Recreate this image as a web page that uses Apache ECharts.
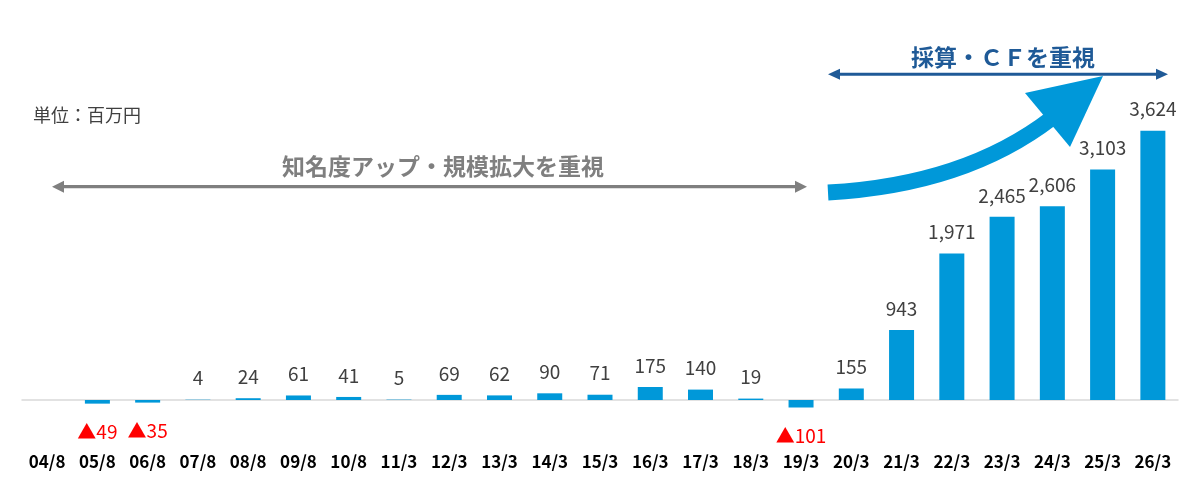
<!DOCTYPE html>
<html>
<head>
<meta charset="utf-8">
<script src="https://cdn.jsdelivr.net/npm/echarts@6/dist/echarts.min.js"></script>
<style>
  html, body { margin: 0; padding: 0; background: #fff; }
  #chart { width: 1200px; height: 486px; }
</style>
</head>
<body>
<div id="chart"></div>
<script>
// 決算期
var periods = ['04/8', '05/8', '06/8', '07/8', '08/8', '09/8', '10/8', '11/3', '12/3', '13/3', '14/3', '15/3',
  '16/3', '17/3', '18/3', '19/3', '20/3', '21/3', '22/3', '23/3', '24/3', '25/3', '26/3'];
// 利益（百万円）、04/8 は値なし
var profits = [null, -49, -35, 4, 24, 61, 41, 5, 69, 62, 90, 71, 175, 140, 19, -101, 155, 943, 1971, 2465, 2606, 3103, 3624];

var phase1 = '知名度アップ・規模拡大を重視';
var phase2 = '採算・ＣＦを重視';
var unitText = '単位：百万円';

var FONT = '"Noto Sans CJK JP", "Noto Sans", sans-serif';
var BAR = '#0098D9';
var GRAY = '#7F7F7F';
var NAVY = '#1F5A97';

// マイナスは▲表記・赤字で棒の下に
var barData = profits.map(function (v) {
  if (v === null) return '-';
  if (v < 0) {
    return {
      value: v,
      label: {
        position: 'bottom',
        distance: 19,
        color: '#FF0000',
        formatter: '▲' + Math.abs(v)
      }
    };
  }
  return v;
});

var chart = echarts.init(document.getElementById('chart'));

chart.setOption({
  animation: false,
  grid: { left: 22, right: 22, top: 102.8, bottom: 11.7, outerBoundsMode: 'none', containLabel: false },
  xAxis: {
    type: 'category',
    data: periods,
    axisLine: { onZero: true, lineStyle: { color: '#D9D9D9', width: 1.5 } },
    axisTick: { show: false },
    axisLabel: {
      margin: -21,
      color: '#000',
      fontWeight: 'bold',
      fontSize: 17,
      fontFamily: FONT
    }
  },
  yAxis: {
    type: 'value',
    min: -1000,
    max: 4000,
    show: false,
    splitLine: { show: false }
  },
  series: [{
    type: 'bar',
    data: barData,
    barWidth: 25,
    itemStyle: { color: BAR },
    label: {
      show: true,
      position: 'top',
      distance: 12,
      color: '#404040',
      fontSize: 19,
      fontFamily: FONT,
      formatter: function (p) {
        return Number(p.value).toLocaleString('en-US');
      }
    }
  }],
  graphic: [
    // 単位
    { type: 'text', left: 33, top: 106,
      style: { text: unitText, fontSize: 18, fill: '#404040', fontFamily: FONT } },

    // 前半：グレーの両矢印
    { type: 'line', shape: { x1: 60, y1: 186.7, x2: 799, y2: 186.7 },
      style: { stroke: GRAY, lineWidth: 3.3 } },
    { type: 'polygon', shape: { points: [[52, 186.7], [64, 180.7], [64, 192.7]] }, style: { fill: GRAY } },
    { type: 'polygon', shape: { points: [[807, 186.7], [795, 180.7], [795, 192.7]] }, style: { fill: GRAY } },
    { type: 'text', x: 443, y: 166,
      style: { text: phase1, fontSize: 23, fontWeight: 'bold', fill: GRAY, fontFamily: FONT,
        align: 'center', verticalAlign: 'middle' } },

    // 後半：紺の両矢印
    { type: 'line', shape: { x1: 836, y1: 74.3, x2: 1160, y2: 74.3 },
      style: { stroke: NAVY, lineWidth: 3 } },
    { type: 'polygon', shape: { points: [[828, 74.3], [840, 68.8], [840, 79.8]] }, style: { fill: NAVY } },
    { type: 'polygon', shape: { points: [[1168, 74.3], [1156, 68.8], [1156, 79.8]] }, style: { fill: NAVY } },
    { type: 'text', x: 1003, y: 57,
      style: { text: phase2, fontSize: 23, fontWeight: 'bold', fill: NAVY, fontFamily: FONT,
        align: 'center', verticalAlign: 'middle' } },

    // 上昇の大矢印
    { type: 'bezierCurve',
      shape: { x1: 828, y1: 192.5, x2: 1052, y2: 118, cpx1: 965, cpy1: 185 },
      style: { stroke: BAR, lineWidth: 16, fill: null, lineCap: 'butt' } },
    { type: 'polygon', shape: { points: [[1025, 93], [1103, 76], [1070, 147]] }, style: { fill: BAR } }
  ]
});
</script>
</body>
</html>
